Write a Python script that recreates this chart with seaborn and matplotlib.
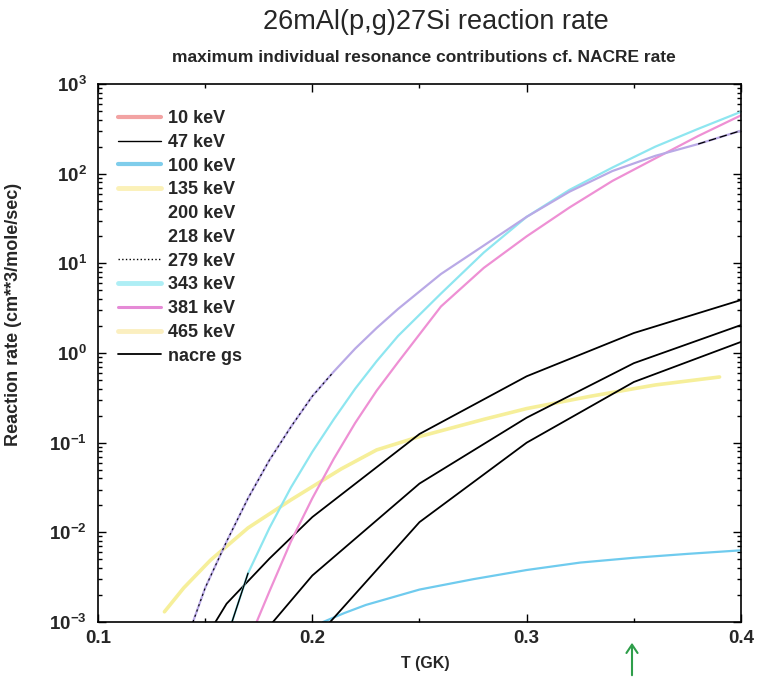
import numpy as np
import matplotlib
matplotlib.use("Agg")
import matplotlib.pyplot as plt
import seaborn as sns
from matplotlib.lines import Line2D
from matplotlib.patches import FancyArrowPatch
from matplotlib.ticker import FixedLocator, MultipleLocator, LogLocator, NullFormatter

# temperatures (GK) and rates (cm^3/mole/sec)
t_279 = [0.1443, 0.15, 0.16, 0.17, 0.18, 0.19, 0.20, 0.21, 0.22, 0.23, 0.24,
         0.26, 0.28, 0.30, 0.32, 0.34, 0.36, 0.38, 0.40]
r_279 = [1.0e-3, 2.4e-3, 7.9e-3, 0.0240, 0.064, 0.150, 0.330, 0.620, 1.12, 1.90, 3.10,
         7.6, 15.8, 33, 63, 107, 158, 214, 302]

t_343 = [0.1625, 0.17, 0.18, 0.19, 0.20, 0.21, 0.22, 0.23, 0.24,
         0.26, 0.28, 0.30, 0.32, 0.34, 0.36, 0.38, 0.40]
r_343 = [1.0e-3, 3.5e-3, 0.0112, 0.0316, 0.079, 0.182, 0.40, 0.81, 1.55,
         4.6, 13.2, 33, 66, 117, 200, 316, 490]

t_381 = [0.174, 0.18, 0.19, 0.20, 0.21, 0.22, 0.23, 0.24,
         0.26, 0.28, 0.30, 0.32, 0.34, 0.36, 0.38, 0.40]
r_381 = [1.0e-3, 2.2e-3, 7.9e-3, 0.024, 0.066, 0.166, 0.38, 0.79,
         3.3, 8.9, 20, 42, 83, 148, 263, 447]

t_135 = [0.131, 0.14, 0.1525, 0.17, 0.19, 0.2135, 0.23, 0.25, 0.28, 0.30, 0.33, 0.36, 0.39]
r_135 = [1.3e-3, 2.4e-3, 4.9e-3, 0.0112, 0.023, 0.051, 0.083, 0.117, 0.182, 0.24, 0.33, 0.44, 0.54]

t_100 = [0.205, 0.215, 0.225, 0.25, 0.275, 0.30, 0.325, 0.35, 0.375, 0.40]
r_100 = [1.0e-3, 1.26e-3, 1.55e-3, 2.3e-3, 3.0e-3, 3.8e-3, 4.6e-3, 5.2e-3, 5.75e-3, 6.3e-3]

t_nacre = [0.15, 0.16, 0.18, 0.20, 0.25, 0.30, 0.35, 0.40]
r_nacre_hi = [6.5e-4, 1.6e-3, 5.1e-3, 0.0148, 0.125, 0.55, 1.67, 3.9]
r_nacre = [3.0e-5, 1.1e-4, 9.0e-4, 3.3e-3, 0.035, 0.19, 0.77, 2.05]
r_nacre_lo = [2.0e-6, 1.0e-5, 1.0e-4, 6.0e-4, 0.013, 0.10, 0.475, 1.33]

legend_labels = ["10 keV", "47 keV", "100 keV", "135 keV", "200 keV", "218 keV",
                 "279 keV", "343 keV", "381 keV", "465 keV", "nacre gs"]
legend_colors = ["#f2a3a3", "black", "#7fcdeb", "#fbf1b8", "white", "white",
                 "black", "#aeeef5", "#e58ad6", "#fbefc0", "black"]
legend_styles = ["-", "-", "-", "-", "-", "-", ":", "-", "-", "-", "-"]
legend_widths = [3, 1, 3, 3.5, 1, 1, 1, 3.5, 2.2, 3.5, 1.3]

sns.set_theme(style="ticks")
plt.rcParams["font.family"] = ["Liberation Sans", "DejaVu Sans"]
plt.rcParams["font.weight"] = "bold"
plt.rcParams["mathtext.fontset"] = "custom"
plt.rcParams["mathtext.bf"] = "Liberation Sans:bold"
plt.rcParams["mathtext.rm"] = "Liberation Sans:bold"

fig = plt.figure(figsize=(7.59, 6.81), dpi=100)
ax = fig.add_axes([98 / 759, 1 - 622 / 681, 643 / 759, 538 / 681])

sns.lineplot(x=t_100, y=r_100, ax=ax, color="#6fcbee", lw=1.6, estimator=None)
sns.lineplot(x=t_135, y=r_135, ax=ax, color="#f6ef9a", lw=2.6, estimator=None)
for r in (r_nacre_hi, r_nacre, r_nacre_lo):
    sns.lineplot(x=t_nacre, y=r, ax=ax, color="black", lw=1.3, estimator=None)
sns.lineplot(x=t_381, y=r_381, ax=ax, color="#ee90d4", lw=1.6, estimator=None)
sns.lineplot(x=t_343, y=r_343, ax=ax, color="#8ee6f0", lw=1.6, estimator=None)
sns.lineplot(x=t_279, y=r_279, ax=ax, color="#b9a9e6", lw=1.6, estimator=None)
# black dotted / dashed pieces of the 279 keV curve
sns.lineplot(x=t_279[:8], y=r_279[:8], ax=ax, color="black", lw=0.8,
             linestyle=(0, (2, 3)), estimator=None)
sns.lineplot(x=t_279[-2:], y=r_279[-2:], ax=ax, color="black", lw=0.9,
             linestyle=(0, (6, 3)), estimator=None)
sns.lineplot(x=t_343[:2], y=r_343[:2], ax=ax, color="black", lw=1.0, estimator=None)

ax.set_yscale("log")
ax.set_xlim(0.1, 0.4)
ax.set_ylim(1e-3, 1e3)

ax.xaxis.set_major_locator(FixedLocator([0.1, 0.2, 0.3, 0.4]))
ax.set_xticklabels(["0.1", "0.2", "0.3", "0.4"], fontsize=13.5, fontweight="bold")
ax.xaxis.set_minor_locator(MultipleLocator(0.05))
ytick_vals = [1e-3, 1e-2, 1e-1, 1e0, 1e1, 1e2, 1e3]
ytick_labels = [r"$\mathbf{10^{-3}}$", r"$\mathbf{10^{-2}}$", r"$\mathbf{10^{-1}}$",
                r"$\mathbf{10^{0}}$", r"$\mathbf{10^{1}}$", r"$\mathbf{10^{2}}$",
                r"$\mathbf{10^{3}}$"]
ax.yaxis.set_major_locator(FixedLocator(ytick_vals))
ax.set_yticklabels(ytick_labels, fontsize=13.5)
ax.yaxis.set_minor_locator(LogLocator(base=10, subs=np.arange(2, 10)))
ax.yaxis.set_minor_formatter(NullFormatter())
ax.tick_params(which="both", direction="in", top=True, right=True, width=1, color="black")
ax.tick_params(which="major", length=6)
ax.tick_params(which="minor", length=3)
ax.tick_params(axis="x", which="major", pad=6)
ax.tick_params(axis="y", which="major", pad=8)
for s in ax.spines.values():
    s.set_linewidth(1.2)
    s.set_color("black")

ax.set_xlabel("T (GK)", fontsize=11.5, fontweight="bold")
ax.xaxis.set_label_coords(0.509, -0.064)
ax.set_ylabel("Reaction rate (cm**3/mole/sec)", fontsize=13, fontweight="bold")
ax.yaxis.set_label_coords(-0.118, 0.571)

handles = [Line2D([], [], color=c, ls=s, lw=w)
           for c, s, w in zip(legend_colors, legend_styles, legend_widths)]
ax.legend(handles, legend_labels, loc="upper left", bbox_to_anchor=(0.02, 0.965),
          frameon=False, fontsize=13, handlelength=2.4, handletextpad=0.35,
          labelspacing=0.375, borderaxespad=0)

fig.text(436 / 759, 1 - 22 / 681, "26mAl(p,g)27Si reaction rate", ha="center", va="center",
         fontsize=19.5, fontweight="normal")
fig.text(424 / 759, 1 - 58 / 681, "maximum individual resonance contributions cf. NACRE rate",
         ha="center", va="center", fontsize=12.5, fontweight="bold")

# hand-drawn green arrow under T = 0.35
fig.patches.append(FancyArrowPatch(
    (632 / 759, 1 - 678 / 681), (632 / 759, 1 - 640 / 681), transform=fig.transFigure,
    arrowstyle="->,head_width=4,head_length=6", color="#2e9e4a", lw=1.5))

fig.savefig("out.png", dpi=100)
